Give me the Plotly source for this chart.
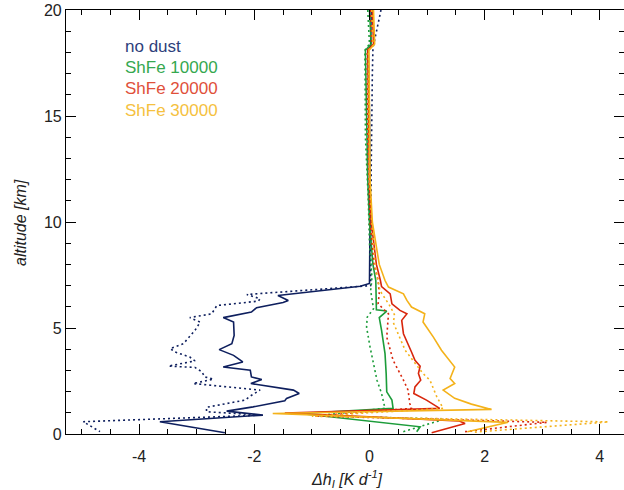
import plotly.graph_objects as go

# ---------------- data ----------------
# no dust, solid
nd_s_alt = [20.0, 18.3, 18.1, 15.0, 10.0, 7.1, 6.97, 6.53, 6.30, 6.2, 5.96, 5.75, 5.49, 5.28, 4.65, 4.26,
            3.98, 3.71, 3.40, 3.16, 3.01, 2.69, 2.57, 2.38, 2.07, 1.91, 1.68, 1.57, 1.28, 1.08, 0.89,
            0.58, 0.06]
nd_s_dh = [0.03, 0.02, -0.02, 0.0, 0.01, 0.0, -0.16, -1.59, -1.41, -1.5, -1.96, -2.05, -2.54, -2.36, -2.35,
           -2.39, -2.61, -2.36, -2.20, -2.54, -2.07, -2.05, -1.87, -2.06, -1.32, -1.22, -1.44, -1.47,
           -2.02, -2.48, -1.85, -3.64, -2.51]
# no dust, dotted
nd_d_alt = [20.0, 19.0, 18.2, 17.0, 12.5, 7.0, 6.75, 6.58, 6.38, 6.27, 6.14, 6.06, 5.67, 5.49, 5.28, 4.89,
            4.26, 4.03, 3.87, 3.63, 3.45, 3.20, 3.14, 2.93, 2.69, 2.59, 2.38, 2.15, 2.07, 1.79, 1.60,
            1.26, 1.05, 0.89, 0.58, 0.11]
nd_d_dh = [0.2, 0.12, 0.06, 0.05, 0.03, 0.02, -1.2, -2.13, -1.90, -1.93, -2.36, -2.65, -2.74, -3.12, -2.94,
           -3.03, -3.23, -3.46, -3.38, -3.12, -3.03, -3.49, -3.03, -2.91, -2.86, -2.71, -3.06, -2.16,
           -1.90, -2.07, -2.16, -2.83, -2.83, -1.87, -4.97, -4.68]

# ShFe 10000
g_s_alt = [20.0, 18.4, 18.1, 15.0, 12.0, 10.0, 8.0, 7.24, 5.86, 5.80, 5.49, 4.89, 3.79, 2.85, 1.99,
           1.60, 1.21, 0.97, 0.60, 0.34, 0.11]
g_s_dh = [0.0, 0.03, -0.07, -0.05, -0.03, 0.0, 0.06, 0.11, 0.12, 0.30, 0.17, 0.21, 0.27, 0.29, 0.30,
          0.39, 0.41, -1.2, 0.0, 0.88, 0.82]
g_d_alt = [20.0, 18.4, 18.1, 14.0, 11.0, 9.0, 7.5, 7.24, 6.77, 5.91, 5.51, 5.04, 4.10, 3.32, 2.54,
           1.91, 1.21, 0.87, 0.70, 0.08]
g_d_dh = [-0.03, 0.0, -0.08, -0.07, -0.02, 0.0, 0.04, 0.04, 0.02, 0.07, -0.04, -0.05, 0.01, 0.07, 0.13,
          0.21, 0.27, -0.9, 1.3, 0.55]

# ShFe 20000
r_s_alt = [20.0, 18.4, 18.1, 15.0, 12.0, 10.0, 8.0, 7.24, 6.95, 6.61, 6.14, 5.83, 5.67, 5.36, 4.73,
           3.87, 3.48, 3.20, 2.85, 2.54, 2.22, 1.91, 1.60, 1.21, 0.99, 0.62, 0.50, 0.06]
r_s_dh = [0.05, 0.07, -0.03, -0.02, 0.0, 0.03, 0.12, 0.19, 0.21, 0.36, 0.39, 0.53, 0.65, 0.56, 0.59,
          0.73, 0.79, 0.88, 0.85, 0.89, 0.79, 0.77, 0.99, 1.22, -1.47, 1.55, 1.66, 1.08]
r_d_alt = [20.0, 18.3, 18.1, 14.0, 10.0, 8.0, 7.24, 6.61, 6.14, 5.67, 4.57, 3.48, 2.54, 2.07, 1.44,
           1.21, 0.85, 0.55, 0.11]
r_d_dh = [0.02, 0.04, -0.04, -0.03, 0.01, 0.08, 0.15, 0.17, 0.15, 0.33, 0.30, 0.41, 0.59, 0.67, 0.70,
          0.73, -0.95, 3.08, 1.66]

# ShFe 30000
o_s_alt = [20.0, 18.4, 18.1, 15.0, 12.0, 10.0, 8.0, 7.24, 6.93, 6.61, 6.30, 5.99, 5.67, 5.28, 4.57,
           3.95, 3.16, 2.62, 2.38, 2.07, 1.68, 1.41, 1.16, 0.97, 0.55, 0.11]
o_s_dh = [0.07, 0.09, -0.01, 0.0, 0.01, 0.05, 0.17, 0.27, 0.33, 0.59, 0.65, 0.73, 0.96, 0.93, 1.11,
          1.25, 1.48, 1.40, 1.48, 1.28, 1.48, 1.77, 2.12, -1.68, 2.41, 1.70]
o_d_alt = [20.0, 18.3, 18.1, 12.0, 10.0, 8.0, 7.24, 6.77, 6.02, 5.59, 5.28, 3.95, 2.85, 2.54, 1.75,
           1.21, 0.84, 0.57, 0.09]
o_d_dh = [0.04, 0.06, -0.02, 0.0, 0.04, 0.10, 0.15, 0.18, 0.36, 0.44, 0.41, 0.62, 0.93, 1.05, 1.17,
          1.28, -1.0, 4.15, 1.83]

series_names = ["no dust", "ShFe 10000", "ShFe 20000", "ShFe 30000"]
series_colors = ["#0e1f5e", "#1c9c3a", "#d8260c", "#f4b21a"]
legend_colors = ["#2e3f7c", "#35a84f", "#e0503a", "#f5c140"]

x_ticks = [-4, -2, 0, 2, 4]
y_ticks = [0, 5, 10, 15, 20]

# plot-area geometry in pixels
L, R, T, B = 66, 624, 10, 434
W, H = 624, 490
FONT = "Liberation Sans, Arial, sans-serif"

# ---------------- figure ----------------
fig = go.Figure()

lines = [
    (nd_d_dh, nd_d_alt, 0, "2px,3px"), (nd_s_dh, nd_s_alt, 0, "solid"),
    (g_d_dh, g_d_alt, 1, "2px,3px"), (g_s_dh, g_s_alt, 1, "solid"),
    (r_d_dh, r_d_alt, 2, "2px,3px"), (r_s_dh, r_s_alt, 2, "solid"),
    (o_d_dh, o_d_alt, 3, "2px,3px"), (o_s_dh, o_s_alt, 3, "solid"),
]
for xs, ys, ci, dash in lines:
    fig.add_trace(go.Scatter(
        x=xs, y=ys, mode="lines", showlegend=False,
        line=dict(color=series_colors[ci], width=1.6, dash=dash),
        name=series_names[ci],
    ))

for i, (nm, col) in enumerate(zip(series_names, legend_colors)):
    fig.add_annotation(
        text=nm, xref="paper", yref="paper",
        x=(123 - L) / (R - L), y=1 - (46.5 + 21.2 * i - T) / (B - T),
        xanchor="left", yanchor="middle", showarrow=False,
        font=dict(family=FONT, size=17, color=col),
    )

# axis titles as annotations for exact placement
fig.add_annotation(
    text="<i>Δh<sub>I</sub> [K d<sup>-1</sup>]</i>", xref="paper", yref="paper",
    x=(347 - L) / (R - L), y=-(479 - B) / (B - T), xanchor="center", yanchor="middle",
    showarrow=False, font=dict(family=FONT, size=16, color="#222222"),
)
fig.add_annotation(
    text="<i>altitude [km]</i>", xref="paper", yref="paper",
    x=-(L - 20) / (R - L), y=1 - (223 - T) / (B - T), xanchor="center", yanchor="middle",
    textangle=-90, showarrow=False, font=dict(family=FONT, size=16, color="#222222"),
)

axis_common = dict(
    showgrid=False, zeroline=False, showline=True, linecolor="black", linewidth=1.2,
    mirror="ticks", ticks="inside", ticklen=10, tickwidth=1.2, tickcolor="black",
    automargin=False,
    tickfont=dict(family=FONT, size=16, color="#222222"),
)

fig.update_layout(
    width=W, height=H,
    margin=dict(l=L, r=W - R, t=T, b=H - B),
    paper_bgcolor="white", plot_bgcolor="white",
    xaxis=dict(
        range=[-5.27, 4.42], tickvals=x_ticks, ticktext=[str(v) for v in x_ticks],
        minor=dict(dtick=0.5, ticks="inside", ticklen=5, tickcolor="black", tickwidth=1),
        ticklabelstandoff=8,
        **axis_common,
    ),
    yaxis=dict(
        range=[0, 20], tickvals=y_ticks, ticktext=[str(v) for v in y_ticks],
        minor=dict(dtick=1, ticks="inside", ticklen=5, tickcolor="black", tickwidth=1),
        **axis_common,
    ),
)

fig.write_html(
    "out.html",
    config={"displayModeBar": False},
    post_script="document.body.style.margin='0';document.body.style.overflow='hidden';",
)
